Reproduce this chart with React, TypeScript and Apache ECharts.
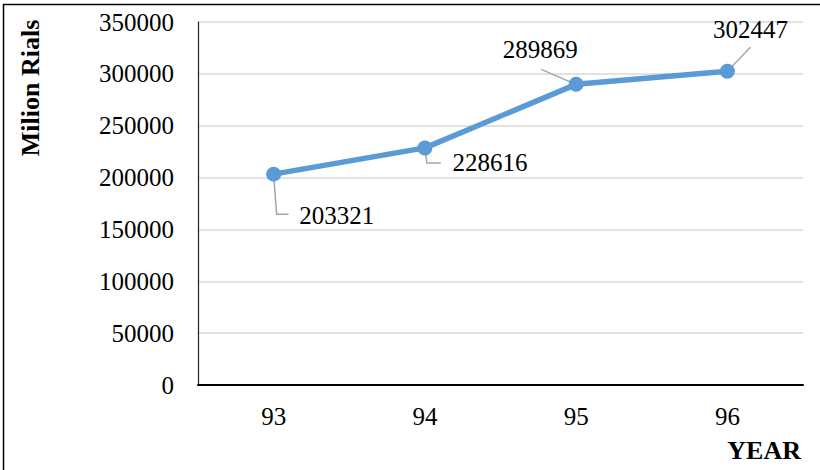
import React, { useEffect, useRef } from "react";
import * as echarts from "echarts";

const years = ["93", "94", "95", "96"];
const values = [203321, 228616, 289869, 302447];
const yTicks = { min: 0, max: 350000, interval: 50000 };

// label offsets (dx, dy) from the point
const labelOffsets = [
  [63, 41],
  [65, 15],
  [-36, -35],
  [23, -42],
];

export default function App() {
  const ref = useRef<HTMLDivElement>(null);
  useEffect(() => {
    document.body.style.margin = "0";
    const chart = echarts.init(ref.current!, null, { renderer: "svg" });
    const font = "'Liberation Serif', 'Times New Roman', serif";
    const baseGraphic: any[] = [
      {
        type: "rect",
        shape: { x: 3.5, y: 4.5, width: 830, height: 480 },
        style: { fill: "none", stroke: "#000", lineWidth: 1.5 },
        silent: true,
      },
      {
        type: "text",
        x: 30,
        y: 88,
        rotation: Math.PI / 2,
        style: {
          text: "Milion Rials",
          font: `bold 26px ${font}`,
          fill: "#000",
          align: "center",
          verticalAlign: "middle",
        },
      },
      {
        type: "text",
        x: 801,
        y: 450,
        style: {
          text: "YEAR",
          font: `bold 26px ${font}`,
          fill: "#000",
          align: "right",
          verticalAlign: "middle",
        },
      },
    ];
    chart.setOption({
      animation: false,
      textStyle: { fontFamily: font },
      grid: { left: 198, right: 17, top: 22, bottom: 85 },
      xAxis: {
        type: "category",
        data: years,
        boundaryGap: true,
        axisLine: { lineStyle: { color: "#000", width: 2 } },
        axisTick: { show: false },
        axisLabel: { color: "#000", fontSize: 25, fontFamily: font, margin: 19 },
      },
      yAxis: {
        type: "value",
        min: yTicks.min,
        max: yTicks.max,
        interval: yTicks.interval,
        axisLine: { show: true, lineStyle: { color: "#222", width: 1.2 } },
        axisTick: { show: false },
        splitLine: { lineStyle: { color: "#d9d9d9", width: 1.5 } },
        axisLabel: {
          color: "#000",
          fontSize: 25,
          fontFamily: font,
          margin: 24,
          formatter: (v: number) => String(v),
        },
      },
      graphic: baseGraphic,
      series: [
        {
          type: "line",
          z: 3,
          data: values,
          symbol: "circle",
          symbolSize: 15,
          itemStyle: { color: "#5B9BD5" },
          lineStyle: { color: "#5B9BD5", width: 5.5 },
          label: {
            show: true,
            position: "inside",
            color: "#000",
            fontSize: 25,
            fontFamily: font,
          },
          labelLayout: (p: any) => ({
            dx: labelOffsets[p.dataIndex][0],
            dy: labelOffsets[p.dataIndex][1],
          }),
        },
      ],
    });

    const pts = values.map((v, i) => chart.convertToPixel({ seriesIndex: 0 }, [i, v]) as number[]);
    const leaders = [
      (p: number[]) => [p, [p[0] + 3, p[1] + 40], [p[0] + 15, p[1] + 40]],
      (p: number[]) => [p, [p[0] + 2, p[1] + 15], [p[0] + 16, p[1] + 15]],
      (p: number[]) => [[p[0] - 35, p[1] - 15], p],
      (p: number[]) => [[p[0] + 23, p[1] - 24], p],
    ];
    chart.setOption({
      graphic: [
        ...baseGraphic,
        ...pts.map((p, i) => ({
          type: "polyline",
          z: 1,
          silent: true,
          shape: { points: leaders[i](p) },
          style: { stroke: "#a6a6a6", lineWidth: 1.5, fill: "none" },
        })),
      ],
    });
    return () => chart.dispose();
  }, []);
  return <div ref={ref} style={{ width: 820, height: 470 }} />;
}
